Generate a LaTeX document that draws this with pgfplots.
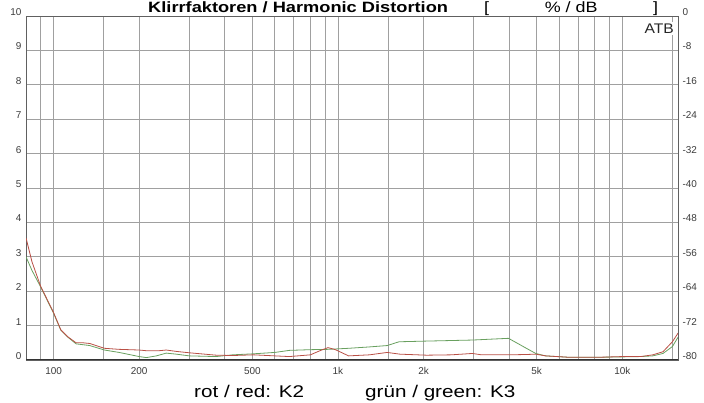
\documentclass[border=0pt]{standalone}
\usepackage{fontspec}
\setmainfont{Liberation Sans}
\usepackage{graphicx}
\usepackage{pgfplots}
\pgfplotsset{compat=1.18}

\definecolor{kred}{RGB}{185,80,70}
\definecolor{kgreen}{RGB}{105,160,95}
\definecolor{gridc}{RGB}{160,160,160}
\definecolor{tickc}{RGB}{60,60,60}

\begin{document}
\begin{tikzpicture}
\path[use as bounding box, clip] (-26bp,-43bp) rectangle (678bp,360bp);
\begin{axis}[
  at={(0,0)}, anchor=south west,
  scale only axis, width=652bp, height=344bp,
  xmode=log, xmin=80, xmax=15700, ymin=0, ymax=10,
  xtick={100,200,500,1000,2000,5000,10000},
  xticklabels={100,200,500,1k,2k,5k,10k},
  minor xtick={90,150,300,400,600,700,800,900,1500,3000,4000,6000,7000,8000,9000,15000},
  ytick={0,1,...,10},
  grid=both,
  major grid style={draw=gridc, line width=0.8bp},
  minor grid style={draw=gridc, line width=0.8bp},
  major tick length=0pt, minor tick length=0pt,
  axis line style={draw=gray!75!black, line width=0.9bp},
  /pgf/number format/assume math mode=true,
  tick label style={font=\fontsize{10}{11}\selectfont, text=tickc},
  xticklabel style={yshift=-4bp},
  yticklabel style={yshift=4bp, xshift=-1bp},
  clip=true,
]
\addplot[kgreen, line width=0.8bp] coordinates {
(80,3.0) (84,2.6) (90,2.13) (100,1.36) (106,0.87) (112,0.67) (120,0.47)
(134,0.42) (151,0.29) (170,0.22) (200,0.10) (212,0.07) (230,0.12) (249,0.20)
(270,0.17) (300,0.12) (373,0.10) (426,0.15) (505,0.18) (600,0.22) (675,0.28)
(800,0.30) (923,0.31) (1090,0.34) (1290,0.38) (1490,0.42) (1640,0.53)
(2050,0.55) (2970,0.58) (3540,0.61) (3980,0.63) (4600,0.34) (4960,0.19)
(5370,0.12) (6460,0.08) (8300,0.08) (10000,0.09) (11600,0.10) (12800,0.12)
(13900,0.19) (15000,0.39) (15700,0.66)
};
\addplot[kred, line width=0.8bp] coordinates {
(80,3.55) (84,2.85) (90,2.15) (100,1.38) (106,0.88) (112,0.68) (120,0.50)
(127,0.50) (134,0.48) (151,0.34) (170,0.31) (200,0.29) (212,0.27) (235,0.27)
(249,0.29) (270,0.25) (300,0.21) (373,0.14) (426,0.13) (505,0.15) (600,0.12)
(675,0.10) (800,0.15) (870,0.28) (923,0.36) (980,0.30) (1090,0.12) (1290,0.15)
(1490,0.22) (1650,0.17) (2050,0.14) (2500,0.15) (2970,0.19) (3200,0.15)
(3980,0.15) (4600,0.16) (4960,0.17) (5370,0.12) (6460,0.08) (8300,0.08)
(10000,0.10) (11600,0.10) (12800,0.15) (13900,0.24) (15000,0.53) (15700,0.78)
};
\draw[gray!40!black, line width=1.6bp] (rel axis cs:0,0) -- (rel axis cs:1,0);
\end{axis}
\begin{axis}[
  at={(0,0)}, anchor=south west,
  scale only axis, width=652bp, height=344bp,
  xmode=log, xmin=80, xmax=15700, ymin=-80, ymax=0,
  axis y line*=right, hide x axis,
  axis line style={draw=gray!75!black, line width=0.9bp},
  ytick={-80,-72,-64,-56,-48,-40,-32,-24,-16,-8,0},
  yticklabels={-80,-72,-64,-56,-48,-40,-32,-24,-16,-8,0},
  major tick length=0pt,
  tick label style={font=\fontsize{10}{11}\selectfont, text=tickc},
  yticklabel style={yshift=4bp, xshift=1bp},
]
\addplot[draw=none] coordinates {(100,-80)};
\end{axis}
\node[anchor=base east, fill=white, inner xsep=1bp, inner ysep=2bp,
      font=\fontsize{14}{16}\selectfont, text=black!85] at (649bp,326.7bp) {\scalebox{1.12}[1]{ATB}};
\node[anchor=base west, inner sep=0pt, font=\bfseries\fontsize{15}{18}\selectfont]
  at (122bp,347.5bp) {\scalebox{1.22}[1]{Klirrfaktoren / Harmonic Distortion}};
\node[anchor=base west, inner sep=0pt, font=\fontsize{15}{18}\selectfont]
  at (458bp,347.5bp) {\scalebox{1.2}[1]{\makebox[145bp][s]{[\hfill\% / dB\hfill]}}};
\node[anchor=base west, inner sep=0pt, font=\fontsize{17}{20}\selectfont]
  at (168bp,-37.7bp) {\scalebox{1.22}[1]{rot / red: K2}};
\node[anchor=base west, inner sep=0pt, font=\fontsize{17}{20}\selectfont]
  at (339bp,-37.7bp) {\scalebox{1.22}[1]{grün / green: K3}};
\end{tikzpicture}
\end{document}
